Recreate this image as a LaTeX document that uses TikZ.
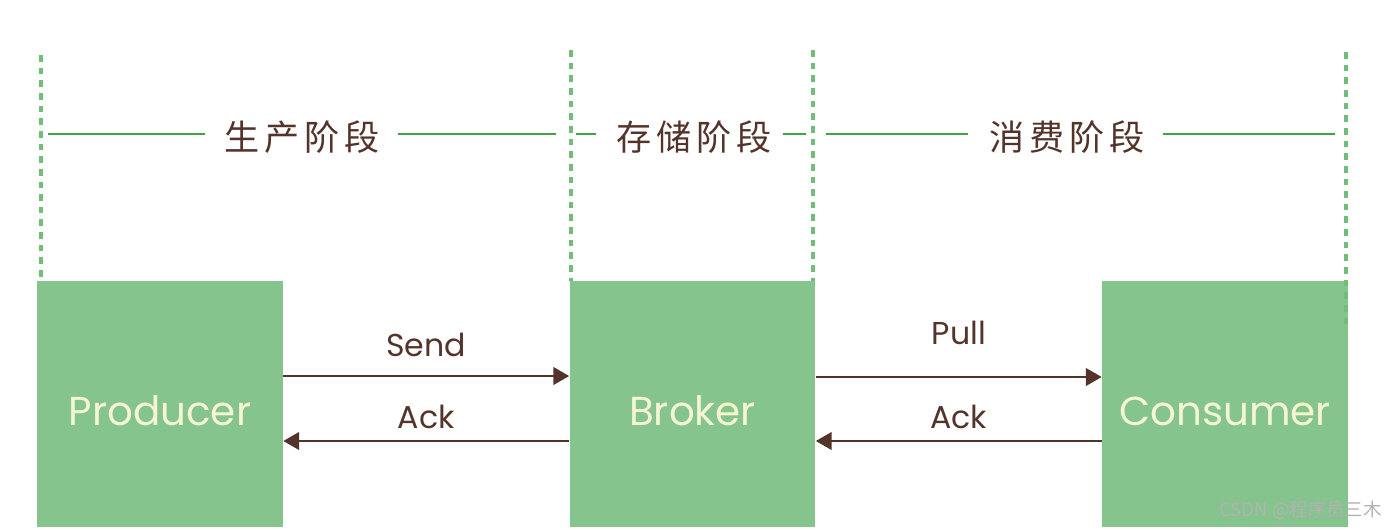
\documentclass[tikz,border=0pt]{standalone}
\usepackage{fontspec}
\setmainfont{Poppins}
\newfontfamily\cjkfont[LetterSpace=14]{Noto Sans CJK SC}
\newfontfamily\markfont{Noto Sans CJK SC}
\usetikzlibrary{arrows.meta}
\definecolor{boxgreen}{RGB}{134,196,142}
\definecolor{dashgreen}{RGB}{112,190,120}
\definecolor{linegreen}{RGB}{64,164,68}
\definecolor{ink}{RGB}{84,52,42}
\definecolor{cream}{RGB}{244,246,206}
\begin{document}
\begin{tikzpicture}[x=0.02cm, y=-0.02cm,
  stage/.style={fill=boxgreen,minimum width=4.92cm,minimum height=4.92cm,inner sep=0pt,
    text height=0.84cm,text depth=0cm,text=cream,font=\fontsize{23}{26}\selectfont},
  phase/.style={text=ink,inner sep=0pt,font=\cjkfont\fontsize{20}{22}\selectfont},
  divider/.style={dashgreen,line width=1.9pt,dash pattern=on 3.8pt off 3.4pt},
  rule/.style={linegreen,line width=1.2pt},
  msg/.style={ink,line width=1.3pt,-{Triangle[length=9pt,width=10pt]}},
  lbl/.style={text=ink,font=\fontsize{18}{20}\selectfont}]
\useasboundingbox (0,0) rectangle (1400,529);
% stages
\node[stage] (producer) at (160,404) {Producer};
\node[stage] (broker) at (692.5,404) {Broker};
\node[stage] (consumer) at (1225,404) {Consumer};
% dashed dividers
\coordinate (d1) at (41,55);
\coordinate (d2) at (571,50);
\coordinate (d3) at (813,50);
\coordinate (d4) at (1346,52);
\coordinate (d4b) at (1346,330);
\draw[divider] (d1) -- (d1 |- producer.north);
\draw[divider] (d2) -- (d2 |- broker.north);
\draw[divider] (d3) -- (d3 |- broker.north);
\draw[divider] (d4) -- (d4b);
% phase titles
\node[phase] (p1) at (302,137) {生产阶段};
\node[phase] (p2) at (694,137) {存储阶段};
\node[phase] (p3) at (1067,137) {消费阶段};
\coordinate (r1a) at (48,134); \coordinate (r1b) at (205,134);
\coordinate (r1c) at (398,134); \coordinate (r1d) at (556,134);
\coordinate (r2a) at (576,134); \coordinate (r2b) at (596,134);
\coordinate (r2c) at (783,134); \coordinate (r2d) at (806,134);
\coordinate (r3a) at (826,134); \coordinate (r3b) at (968,134);
\coordinate (r3c) at (1163,134); \coordinate (r3d) at (1335,134);
\draw[rule] (r1a) -- (r1b); \draw[rule] (r1c) -- (r1d);
\draw[rule] (r2a) -- (r2b); \draw[rule] (r2c) -- (r2d);
\draw[rule] (r3a) -- (r3b); \draw[rule] (r3c) -- (r3d);
% messages
\draw[msg] ([yshift=0.56cm]producer.east) -- node[lbl,above=0.25cm] (send) {Send} ([yshift=0.56cm]broker.west);
\draw[msg] ([yshift=-0.74cm]broker.west) -- node[lbl,above=0.1cm] (ack1) {Ack} ([yshift=-0.74cm]producer.east);
\draw[msg] ([yshift=0.54cm]broker.east) -- node[lbl,above=0.5cm] (pull) {Pull} ([yshift=0.54cm]consumer.west);
\draw[msg] ([yshift=-0.74cm]consumer.west) -- node[lbl,above=0.1cm] (ack2) {Ack} ([yshift=-0.74cm]broker.east);
% watermark
\node[text=gray!60,font=\markfont\fontsize{10.5}{12}\selectfont,anchor=east] (mark) at (1388,510) {CSDN @程序员三木};
\end{tikzpicture}
\end{document}
